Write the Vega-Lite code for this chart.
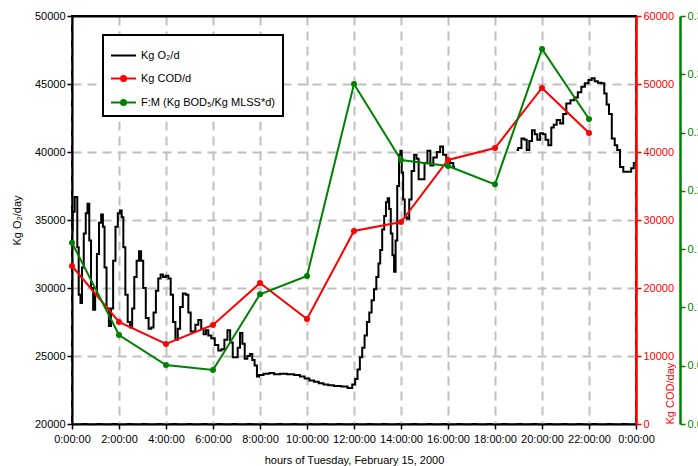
{
  "$schema": "https://vega.github.io/schema/vega-lite/v6.json",
  "width": 564,
  "height": 408,
  "autosize": {"type": "none"},
  "padding": {"left": 72, "top": 16, "right": 62, "bottom": 42},
  "background": "white",
  "config": {
    "font": "Liberation Sans",
    "view": {"stroke": "black", "strokeWidth": 2},
    "axis": {
      "labelFont": "Liberation Sans",
      "titleFont": "Liberation Sans",
      "labelFontSize": 11,
      "titleFontSize": 11,
      "titleFontWeight": "normal",
      "gridColor": "#c0c0c0",
      "gridDash": [9, 6],
      "gridWidth": 2,
      "labelColor": "black",
      "titleColor": "black",
      "domainColor": "black",
      "domainWidth": 2,
      "tickColor": "black",
      "tickWidth": 1.5,
      "tickSize": 5,
      "labelOverlap": false,
      "labelFlush": false
    }
  },
  "datasets": {
    "o2": [
      {"h": 0.00, "kg": 34300, "seg": 1}, {"h": 0.05, "kg": 35600, "seg": 1}, {"h": 0.10, "kg": 35600, "seg": 1},
      {"h": 0.13, "kg": 36700, "seg": 1}, {"h": 0.20, "kg": 36700, "seg": 1}, {"h": 0.25, "kg": 33000, "seg": 1},
      {"h": 0.32, "kg": 29500, "seg": 1}, {"h": 0.40, "kg": 28900, "seg": 1}, {"h": 0.45, "kg": 31500, "seg": 1},
      {"h": 0.55, "kg": 34000, "seg": 1}, {"h": 0.62, "kg": 35500, "seg": 1}, {"h": 0.70, "kg": 36200, "seg": 1},
      {"h": 0.77, "kg": 33500, "seg": 1}, {"h": 0.85, "kg": 30000, "seg": 1}, {"h": 0.95, "kg": 28400, "seg": 1},
      {"h": 1.02, "kg": 29500, "seg": 1}, {"h": 1.10, "kg": 32500, "seg": 1}, {"h": 1.20, "kg": 34800, "seg": 1},
      {"h": 1.28, "kg": 35400, "seg": 1}, {"h": 1.35, "kg": 34500, "seg": 1}, {"h": 1.42, "kg": 31500, "seg": 1},
      {"h": 1.52, "kg": 28500, "seg": 1}, {"h": 1.62, "kg": 27200, "seg": 1}, {"h": 1.70, "kg": 28500, "seg": 1},
      {"h": 1.80, "kg": 32000, "seg": 1}, {"h": 1.90, "kg": 34500, "seg": 1}, {"h": 2.00, "kg": 35500, "seg": 1},
      {"h": 2.08, "kg": 35700, "seg": 1}, {"h": 2.15, "kg": 35200, "seg": 1}, {"h": 2.22, "kg": 33000, "seg": 1},
      {"h": 2.32, "kg": 29500, "seg": 1}, {"h": 2.42, "kg": 27500, "seg": 1}, {"h": 2.52, "kg": 27100, "seg": 1},
      {"h": 2.60, "kg": 28500, "seg": 1}, {"h": 2.70, "kg": 30800, "seg": 1}, {"h": 2.80, "kg": 32000, "seg": 1},
      {"h": 2.90, "kg": 32700, "seg": 1}, {"h": 2.98, "kg": 32000, "seg": 1}, {"h": 3.08, "kg": 30000, "seg": 1},
      {"h": 3.20, "kg": 27800, "seg": 1}, {"h": 3.32, "kg": 27000, "seg": 1}, {"h": 3.42, "kg": 27100, "seg": 1},
      {"h": 3.52, "kg": 28200, "seg": 1}, {"h": 3.62, "kg": 29800, "seg": 1}, {"h": 3.72, "kg": 30700, "seg": 1},
      {"h": 3.82, "kg": 31000, "seg": 1}, {"h": 3.92, "kg": 30800, "seg": 1}, {"h": 4.05, "kg": 30900, "seg": 1},
      {"h": 4.15, "kg": 30700, "seg": 1}, {"h": 4.25, "kg": 29500, "seg": 1}, {"h": 4.35, "kg": 27500, "seg": 1},
      {"h": 4.45, "kg": 26200, "seg": 1}, {"h": 4.55, "kg": 27000, "seg": 1}, {"h": 4.65, "kg": 28600, "seg": 1},
      {"h": 4.78, "kg": 29600, "seg": 1}, {"h": 4.90, "kg": 29500, "seg": 1}, {"h": 5.00, "kg": 28200, "seg": 1},
      {"h": 5.10, "kg": 26800, "seg": 1}, {"h": 5.20, "kg": 26800, "seg": 1}, {"h": 5.30, "kg": 27300, "seg": 1},
      {"h": 5.45, "kg": 27650, "seg": 1}, {"h": 5.55, "kg": 27000, "seg": 1}, {"h": 5.65, "kg": 26600, "seg": 1},
      {"h": 5.75, "kg": 26900, "seg": 1}, {"h": 5.85, "kg": 26500, "seg": 1}, {"h": 6.00, "kg": 26300, "seg": 1},
      {"h": 6.15, "kg": 25800, "seg": 1}, {"h": 6.30, "kg": 25400, "seg": 1}, {"h": 6.42, "kg": 25500, "seg": 1},
      {"h": 6.55, "kg": 26200, "seg": 1}, {"h": 6.68, "kg": 26900, "seg": 1}, {"h": 6.78, "kg": 26000, "seg": 1},
      {"h": 6.90, "kg": 24900, "seg": 1}, {"h": 7.00, "kg": 24900, "seg": 1}, {"h": 7.10, "kg": 25600, "seg": 1},
      {"h": 7.20, "kg": 26700, "seg": 1}, {"h": 7.30, "kg": 25900, "seg": 1}, {"h": 7.40, "kg": 24800, "seg": 1},
      {"h": 7.52, "kg": 25000, "seg": 1}, {"h": 7.62, "kg": 25150, "seg": 1}, {"h": 7.72, "kg": 24700, "seg": 1},
      {"h": 7.82, "kg": 24300, "seg": 1}, {"h": 7.92, "kg": 23500, "seg": 1}, {"h": 8.00, "kg": 23600, "seg": 1},
      {"h": 8.30, "kg": 23700, "seg": 1}, {"h": 8.50, "kg": 23750, "seg": 1}, {"h": 8.70, "kg": 23650, "seg": 1},
      {"h": 9.00, "kg": 23700, "seg": 1}, {"h": 9.30, "kg": 23650, "seg": 1}, {"h": 9.60, "kg": 23600, "seg": 1},
      {"h": 9.80, "kg": 23500, "seg": 1}, {"h": 10.00, "kg": 23350, "seg": 1}, {"h": 10.20, "kg": 23200, "seg": 1},
      {"h": 10.40, "kg": 23100, "seg": 1}, {"h": 10.60, "kg": 23000, "seg": 1}, {"h": 10.80, "kg": 22900, "seg": 1},
      {"h": 11.00, "kg": 22850, "seg": 1}, {"h": 11.30, "kg": 22800, "seg": 1}, {"h": 11.60, "kg": 22750, "seg": 1},
      {"h": 11.85, "kg": 22650, "seg": 1}, {"h": 12.00, "kg": 22900, "seg": 1}, {"h": 12.10, "kg": 23300, "seg": 1},
      {"h": 12.20, "kg": 24000, "seg": 1}, {"h": 12.30, "kg": 24900, "seg": 1}, {"h": 12.40, "kg": 25600, "seg": 1},
      {"h": 12.50, "kg": 26500, "seg": 1}, {"h": 12.60, "kg": 27500, "seg": 1}, {"h": 12.70, "kg": 28200, "seg": 1},
      {"h": 12.80, "kg": 29100, "seg": 1}, {"h": 12.90, "kg": 29900, "seg": 1}, {"h": 13.00, "kg": 30800, "seg": 1},
      {"h": 13.08, "kg": 31800, "seg": 1}, {"h": 13.15, "kg": 32800, "seg": 1}, {"h": 13.25, "kg": 34300, "seg": 1},
      {"h": 13.32, "kg": 35300, "seg": 1}, {"h": 13.40, "kg": 36300, "seg": 1}, {"h": 13.46, "kg": 36600, "seg": 1},
      {"h": 13.53, "kg": 35800, "seg": 1}, {"h": 13.60, "kg": 34000, "seg": 1}, {"h": 13.67, "kg": 32400, "seg": 1},
      {"h": 13.74, "kg": 31200, "seg": 1}, {"h": 13.80, "kg": 33500, "seg": 1}, {"h": 13.88, "kg": 37500, "seg": 1},
      {"h": 13.95, "kg": 39800, "seg": 1}, {"h": 14.00, "kg": 40100, "seg": 1}, {"h": 14.06, "kg": 38500, "seg": 1},
      {"h": 14.12, "kg": 36500, "seg": 1}, {"h": 14.20, "kg": 35200, "seg": 1}, {"h": 14.30, "kg": 35100, "seg": 1},
      {"h": 14.40, "kg": 36500, "seg": 1}, {"h": 14.50, "kg": 38600, "seg": 1}, {"h": 14.62, "kg": 39800, "seg": 1},
      {"h": 14.70, "kg": 39500, "seg": 1}, {"h": 14.80, "kg": 38000, "seg": 1}, {"h": 14.95, "kg": 38000, "seg": 1},
      {"h": 15.05, "kg": 39200, "seg": 1}, {"h": 15.20, "kg": 40100, "seg": 1}, {"h": 15.30, "kg": 39000, "seg": 1},
      {"h": 15.45, "kg": 39600, "seg": 1}, {"h": 15.60, "kg": 40000, "seg": 1}, {"h": 15.73, "kg": 40400, "seg": 1},
      {"h": 15.85, "kg": 39800, "seg": 1}, {"h": 16.00, "kg": 39400, "seg": 1}, {"h": 16.15, "kg": 39200, "seg": 1},
      {"h": 16.30, "kg": 38900, "seg": 1},
      {"h": 18.92, "kg": 40150, "seg": 2}, {"h": 19.05, "kg": 40300, "seg": 2}, {"h": 19.20, "kg": 41000, "seg": 2},
      {"h": 19.30, "kg": 40900, "seg": 2}, {"h": 19.40, "kg": 40150, "seg": 2}, {"h": 19.52, "kg": 40800, "seg": 2},
      {"h": 19.63, "kg": 41600, "seg": 2}, {"h": 19.75, "kg": 41300, "seg": 2}, {"h": 19.85, "kg": 40900, "seg": 2},
      {"h": 19.99, "kg": 41370, "seg": 2}, {"h": 20.10, "kg": 41300, "seg": 2}, {"h": 20.20, "kg": 40900, "seg": 2},
      {"h": 20.34, "kg": 40500, "seg": 2}, {"h": 20.45, "kg": 41800, "seg": 2}, {"h": 20.55, "kg": 42000, "seg": 2},
      {"h": 20.70, "kg": 42350, "seg": 2}, {"h": 20.85, "kg": 42100, "seg": 2}, {"h": 20.95, "kg": 42800, "seg": 2},
      {"h": 21.12, "kg": 43570, "seg": 2}, {"h": 21.30, "kg": 43800, "seg": 2}, {"h": 21.45, "kg": 44000, "seg": 2},
      {"h": 21.60, "kg": 44400, "seg": 2}, {"h": 21.75, "kg": 44800, "seg": 2}, {"h": 21.90, "kg": 45050, "seg": 2},
      {"h": 22.05, "kg": 45300, "seg": 2}, {"h": 22.18, "kg": 45420, "seg": 2}, {"h": 22.30, "kg": 45200, "seg": 2},
      {"h": 22.45, "kg": 45100, "seg": 2}, {"h": 22.60, "kg": 45050, "seg": 2}, {"h": 22.70, "kg": 44300, "seg": 2},
      {"h": 22.80, "kg": 43500, "seg": 2}, {"h": 22.90, "kg": 42800, "seg": 2}, {"h": 23.04, "kg": 41000, "seg": 2},
      {"h": 23.15, "kg": 40500, "seg": 2}, {"h": 23.25, "kg": 40150, "seg": 2}, {"h": 23.39, "kg": 38900, "seg": 2},
      {"h": 23.53, "kg": 38550, "seg": 2}, {"h": 23.74, "kg": 38550, "seg": 2}, {"h": 23.85, "kg": 38800, "seg": 2},
      {"h": 23.96, "kg": 39200, "seg": 2}
    ],
    "cod": [
      {"h": 0, "kg": 23235}, {"h": 2, "kg": 15000}, {"h": 4, "kg": 11765}, {"h": 6, "kg": 14560},
      {"h": 8, "kg": 20735}, {"h": 10, "kg": 15440}, {"h": 12, "kg": 28380}, {"h": 14, "kg": 29700},
      {"h": 16, "kg": 38824}, {"h": 18, "kg": 40588}, {"h": 20, "kg": 49412}, {"h": 22, "kg": 42794}
    ],
    "fm": [
      {"h": 0, "r": 0.1555}, {"h": 2, "r": 0.0763}, {"h": 4, "r": 0.0506}, {"h": 6, "r": 0.0463},
      {"h": 8, "r": 0.1113}, {"h": 10, "r": 0.1270}, {"h": 12, "r": 0.2917}, {"h": 14, "r": 0.2265},
      {"h": 16, "r": 0.2213}, {"h": 18, "r": 0.2056}, {"h": 20, "r": 0.3217}, {"h": 22, "r": 0.2616}
    ]
  },
  "layer": [
    {
      "data": {"name": "o2"},
      "mark": {"type": "line", "strokeWidth": 2, "color": "black", "interpolate": "step"},
      "encoding": {
        "x": {"field": "h", "type": "quantitative", "scale": {"domain": [0, 24], "nice": false},
          "axis": {"values": [0, 2, 4, 6, 8, 10, 12, 14, 16, 18, 20, 22, 24], "labelExpr": "(datum.value % 24) + ':00:00'", "title": "hours of Tuesday, February 15, 2000", "grid": true, "labelPadding": 4, "titlePadding": 10}},
        "y": {"field": "kg", "type": "quantitative", "scale": {"domain": [20000, 50000], "nice": false},
          "axis": {"orient": "left", "values": [20000, 25000, 30000, 35000, 40000, 45000, 50000], "format": "d", "title": "Kg O₂/day", "grid": true, "titlePadding": 12,
            "gridColor": {"condition": {"test": "datum.value == 50000", "value": "black"}, "value": "#c0c0c0"},
            "gridDash": {"condition": {"test": "datum.value == 50000", "value": []}, "value": [9, 6]}}},
        "detail": {"field": "seg"},
        "color": {"datum": "Kg O₂/d", "type": "nominal",
          "scale": {"domain": ["Kg O₂/d", "Kg COD/d", "F:M (Kg BOD₅/Kg MLSS*d)"], "range": ["black", "#ff0000", "#008000"]},
          "legend": {
            "orient": "none", "legendX": 31, "legendY": 19, "title": null,
            "symbolType": "stroke", "symbolSize": 625, "symbolStrokeWidth": 2,
            "labelFont": "Liberation Sans", "labelFontSize": 11, "labelLimit": 300,
            "padding": 7, "rowPadding": 4, "strokeColor": "black", "fillColor": "white",
            "encode": {
              "symbols": {"update": {
                "shape": {"signal": "datum.value == 'Kg O₂/d' ? 'stroke' : 'M-1,0H1M-0.2,0A0.2,0.2,0,1,0,0.2,0A0.2,0.2,0,1,0,-0.2,0Z'"},
                "fill": {"signal": "datum.value == 'Kg O₂/d' ? 'transparent' : scale('color', datum.value)"}
              }},
              "legend": {"update": {"strokeWidth": {"value": 2}}}
            }
          }}
      }
    },
    {
      "data": {"name": "cod"},
      "mark": {"type": "line", "strokeWidth": 2, "point": {"filled": true, "size": 36}},
      "encoding": {
        "x": {"field": "h", "type": "quantitative", "scale": {"domain": [0, 24], "nice": false},
          "axis": {"values": [0, 2, 4, 6, 8, 10, 12, 14, 16, 18, 20, 22, 24], "labelExpr": "(datum.value % 24) + ':00:00'", "title": "hours of Tuesday, February 15, 2000", "grid": true, "labelPadding": 4, "titlePadding": 10}},
        "y": {"field": "kg", "type": "quantitative", "scale": {"domain": [0, 60000], "nice": false},
          "axis": {"orient": "right", "values": [0, 10000, 20000, 30000, 40000, 50000, 60000], "format": "d", "title": "Kg COD/day", "grid": false,
            "labelColor": "#ff0000", "titleColor": "#ff0000", "domainColor": "#ff0000", "tickColor": "#ff0000", "domainWidth": 2.5,
            "titleAngle": 270, "titleAnchor": "start", "titleBaseline": "bottom", "titlePadding": 2}},
        "color": {"datum": "Kg COD/d", "type": "nominal"}
      }
    },
    {
      "data": {"name": "fm"},
      "mark": {"type": "line", "strokeWidth": 2, "point": {"filled": true, "size": 36}},
      "encoding": {
        "x": {"field": "h", "type": "quantitative", "scale": {"domain": [0, 24], "nice": false},
          "axis": {"values": [0, 2, 4, 6, 8, 10, 12, 14, 16, 18, 20, 22, 24], "labelExpr": "(datum.value % 24) + ':00:00'", "title": "hours of Tuesday, February 15, 2000", "grid": true, "labelPadding": 4, "titlePadding": 10}},
        "y": {"field": "r", "type": "quantitative", "scale": {"domain": [0, 0.35], "nice": false},
          "axis": {"orient": "right", "offset": 44, "values": [0, 0.05, 0.1, 0.15, 0.2, 0.25, 0.3, 0.35], "format": ".2f", "title": "F:M ratio", "grid": false,
            "labelColor": "#008000", "titleColor": "#008000", "domainColor": "#008000", "tickColor": "#008000", "domainWidth": 2.5,
            "titleAngle": 270, "titleAnchor": "start", "titleBaseline": "bottom", "titlePadding": 2}},
        "color": {"datum": "F:M (Kg BOD₅/Kg MLSS*d)", "type": "nominal"}
      }
    }
  ],
  "resolve": {"scale": {"y": "independent"}}
}
